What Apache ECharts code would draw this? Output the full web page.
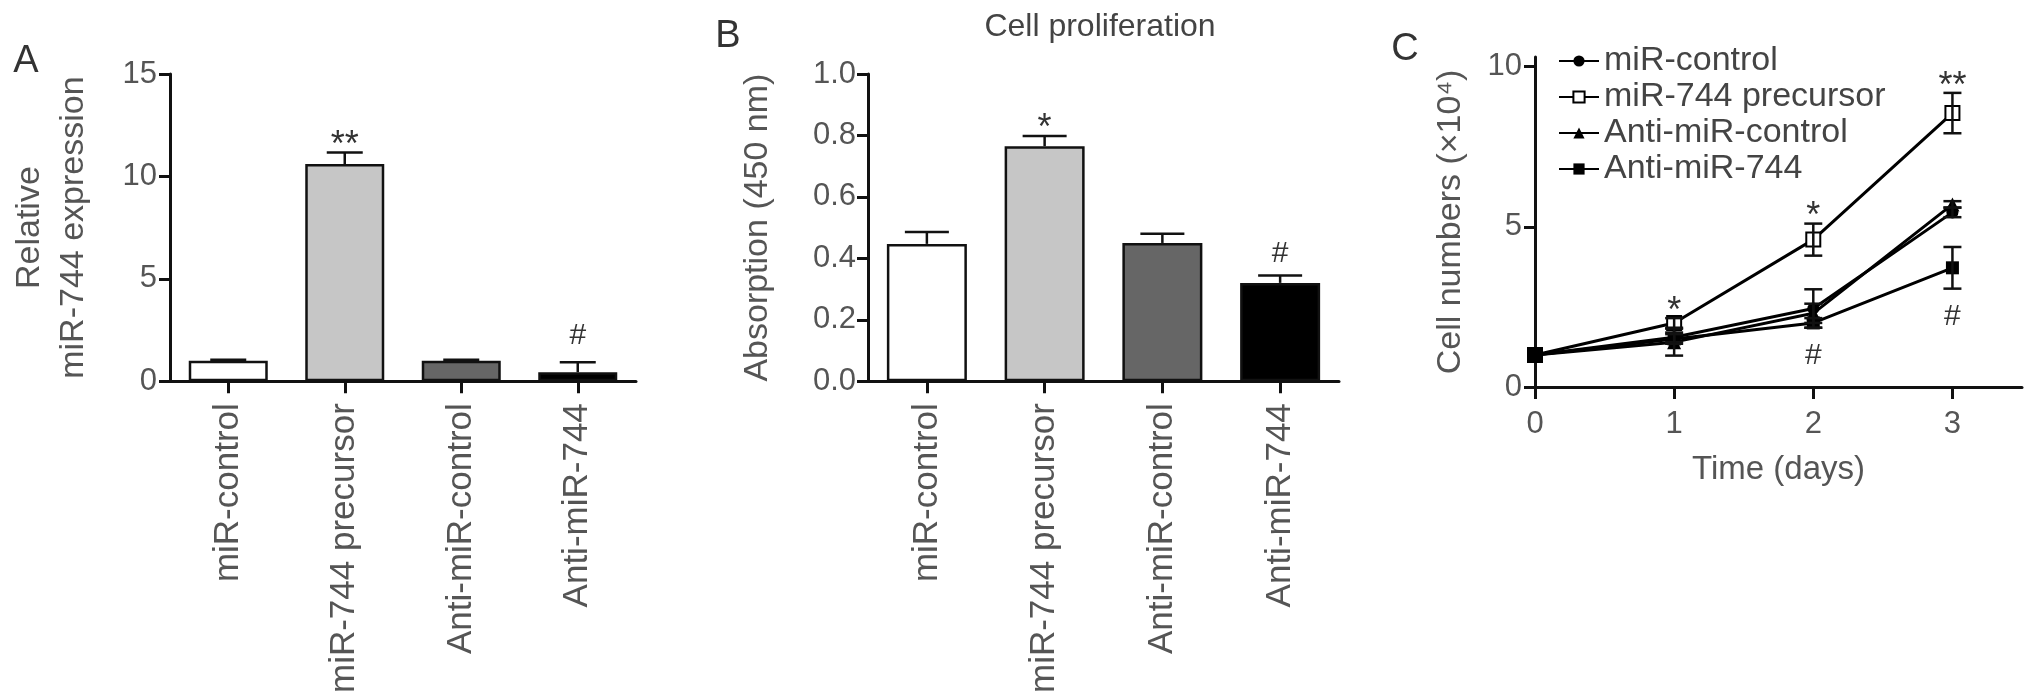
<!DOCTYPE html>
<html>
<head>
<meta charset="utf-8">
<script src="https://cdn.jsdelivr.net/npm/echarts@6/dist/echarts.min.js"></script>
<style>
html, body { margin: 0; padding: 0; background: #fff; }
#main { width: 2032px; height: 696px; }
</style>
</head>
<body>
<div id="main"></div>
<script>
// groups shared by panel A and B
var groups = ['miR-control', 'miR-744 precursor', 'Anti-miR-control', 'Anti-miR-744'];
var barColors = ['#ffffff', '#c6c6c6', '#666666', '#000000'];

// A - relative miR-744 expression
var exprMean = [1.0, 10.6, 1.0, 0.44];
var exprErr = [0.05, 0.57, 0.05, 0.48];
var exprMark = ['', '**', '', '#'];

// B - absorption (450 nm)
var absMean = [0.447, 0.765, 0.45, 0.32];
var absErr = [0.039, 0.033, 0.03, 0.024];
var absMark = ['', '*', '', '#'];

// C - cell numbers (x10^4)
var days = [0, 1, 2, 3];
var ctrlMean = [1.0, 1.55, 2.45, 5.45];
var ctrlErr = [0, 0.15, 0.6, 0.15];
var preMean = [1.0, 2.0, 4.6, 8.55];
var preErr = [0, 0.15, 0.5, 0.63];
var antiCtrlMean = [1.0, 1.4, 2.3, 5.7];
var antiCtrlErr = [0, 0.42, 0.3, 0.1];
var antiMean = [1.0, 1.5, 2.0, 3.72];
var antiErr = [0, 0.15, 0.15, 0.65];
var preMark = ['', '*', '*', '**'];
var antiMark = ['', '', '#', '#'];

var FONT = '"Liberation Sans", Arial, sans-serif';
var INK = '#111';
var GREY = '#555';

function markText(x, y, txt) {
  var star = txt.indexOf('*') >= 0;
  var fs = star ? 36 : 30;
  return {
    type: 'text', x: x, y: star ? y + 0.27 * fs : y,
    style: { text: txt, align: 'center', verticalAlign: 'middle', fontSize: fs, fontFamily: FONT, fill: '#333' }
  };
}

// one-sided error bars on top of the bars, plus significance marks
function barErr(capW, marks, gap) {
  return function (params, api) {
    var i = api.value(0), m = api.value(1), e = api.value(2);
    var b = api.coord([i, m]), t = api.coord([i, m + e]);
    var ls = { stroke: INK, lineWidth: 2.5 };
    var kids = [
      { type: 'line', shape: { x1: t[0], y1: b[1], x2: t[0], y2: t[1] }, style: ls },
      { type: 'line', shape: { x1: t[0] - capW / 2, y1: t[1], x2: t[0] + capW / 2, y2: t[1] }, style: ls }
    ];
    if (marks[i]) kids.push(markText(t[0], t[1] - gap[i], marks[i]));
    return { type: 'group', children: kids };
  };
}

// two-sided error bars for panel C
function lineErr(marksUp, marksDown) {
  return function (params, api) {
    var x = api.value(0), m = api.value(1), e = api.value(2);
    var t = api.coord([x, m + e]), b = api.coord([x, m - e]);
    var ls = { stroke: INK, lineWidth: 2.5 };
    var kids = [];
    if (e > 0) {
      kids.push({ type: 'line', shape: { x1: t[0], y1: t[1], x2: t[0], y2: b[1] }, style: ls });
      kids.push({ type: 'line', shape: { x1: t[0] - 9, y1: t[1], x2: t[0] + 9, y2: t[1] }, style: ls });
      kids.push({ type: 'line', shape: { x1: b[0] - 9, y1: b[1], x2: b[0] + 9, y2: b[1] }, style: ls });
    }
    var i = params.dataIndex;
    if (marksUp && marksUp[i]) kids.push(markText(t[0], t[1] - 16, marksUp[i]));
    if (marksDown && marksDown[i]) kids.push(markText(b[0], b[1] + 28, marksDown[i]));
    return { type: 'group', children: kids };
  };
}

function errData(xs, mean, err) {
  return xs.map(function (x, i) { return [x, mean[i], err[i]]; });
}
function pts(mean) {
  return days.map(function (d, i) { return [d, mean[i]]; });
}

var axisLine = { show: true, onZero: false, lineStyle: { color: INK, width: 3 } };
var tickOut = { show: true, length: 11, lineStyle: { color: INK, width: 3 } };
var tickLbl = { color: GREY, fontSize: 31, fontFamily: FONT };

function catAxis(idx) {
  return {
    type: 'category', gridIndex: idx, data: groups,
    axisLine: axisLine,
    axisTick: { show: true, alignWithLabel: true, length: 12, lineStyle: { color: INK, width: 3 } },
    axisLabel: { rotate: 90, margin: 22, color: GREY, fontSize: 35, fontFamily: FONT }
  };
}

var chart = echarts.init(document.getElementById('main'));
chart.setOption({
  animation: false,
  backgroundColor: '#fff',
  grid: [
    { left: 170, top: 74, width: 466, height: 309 },
    { left: 868, top: 74, width: 471, height: 313 },
    { left: 1535, top: 57, width: 487, height: 330 }
  ],
  xAxis: [
    catAxis(0),
    catAxis(1),
    {
      type: 'value', gridIndex: 2, min: 0, max: 3.5,
      axisLine: axisLine,
      axisTick: { show: true, length: 12, customValues: [0, 1, 2, 3], lineStyle: { color: INK, width: 3 } },
      axisLabel: { customValues: [0, 1, 2, 3], margin: 22, color: GREY, fontSize: 31, fontFamily: FONT },
      splitLine: { show: false },
      name: 'Time (days)', nameLocation: 'middle', nameGap: 66,
      nameTextStyle: { color: GREY, fontSize: 33, fontFamily: FONT }
    }
  ],
  yAxis: [
    {
      type: 'value', gridIndex: 0, min: 0, max: 15, interval: 5,
      axisLine: axisLine, axisTick: tickOut, splitLine: { show: false },
      axisLabel: Object.assign({ margin: 13 }, tickLbl),
      name: 'Relative\nmiR-744 expression', nameLocation: 'middle', nameGap: 74,
      nameTextStyle: { color: GREY, fontSize: 34, fontFamily: FONT, lineHeight: 44 }
    },
    {
      type: 'value', gridIndex: 1, min: 0, max: 1, interval: 0.2,
      axisLine: axisLine, axisTick: tickOut, splitLine: { show: false },
      axisLabel: Object.assign({ margin: 12, formatter: function (v) { return v.toFixed(1); } }, tickLbl),
      name: 'Absorption (450 nm)', nameLocation: 'middle', nameGap: 93,
      nameTextStyle: { color: GREY, fontSize: 34, fontFamily: FONT }
    },
    {
      type: 'value', gridIndex: 2, min: 0, max: 10.3,
      axisLine: axisLine,
      axisTick: { show: true, length: 11, customValues: [0, 5, 10], lineStyle: { color: INK, width: 3 } },
      axisLabel: Object.assign({ margin: 13, customValues: [0, 5, 10] }, tickLbl),
      splitLine: { show: false },
      name: 'Cell numbers (×10⁴)', nameLocation: 'middle', nameGap: 67,
      nameTextStyle: { color: GREY, fontSize: 34, fontFamily: FONT }
    }
  ],
  legend: {
    orient: 'vertical', left: 1553, top: 39, itemWidth: 40, itemHeight: 14, itemGap: 2,
    textStyle: { color: '#444', fontSize: 34, fontFamily: FONT },
    data: ['miR-control', 'miR-744 precursor', 'Anti-miR-control', 'Anti-miR-744']
  },
  graphic: [
    { type: 'text', x: 26, y: 62, style: { text: 'A', fontSize: 38, fontFamily: FONT, fill: '#333', align: 'center', verticalAlign: 'middle' } },
    { type: 'text', x: 728, y: 37, style: { text: 'B', fontSize: 38, fontFamily: FONT, fill: '#333', align: 'center', verticalAlign: 'middle' } },
    { type: 'text', x: 1405, y: 50, style: { text: 'C', fontSize: 38, fontFamily: FONT, fill: '#333', align: 'center', verticalAlign: 'middle' } },
    { type: 'text', x: 1100, y: 27, style: { text: 'Cell proliferation', fontSize: 32, fontFamily: FONT, fill: '#444', align: 'center', verticalAlign: 'middle' } }
  ],
  series: [
    {
      type: 'bar', xAxisIndex: 0, yAxisIndex: 0, barWidth: 79,
      data: exprMean.map(function (v, i) {
        return { value: v, itemStyle: { color: barColors[i], borderColor: INK, borderWidth: 2.5 } };
      })
    },
    {
      type: 'custom', xAxisIndex: 0, yAxisIndex: 0, z: 5,
      renderItem: barErr(36, exprMark, [0, 16, 0, 27]),
      data: errData([0, 1, 2, 3], exprMean, exprErr)
    },
    {
      type: 'bar', xAxisIndex: 1, yAxisIndex: 1, barWidth: 80,
      data: absMean.map(function (v, i) {
        return { value: v, itemStyle: { color: barColors[i], borderColor: INK, borderWidth: 2.5 } };
      })
    },
    {
      type: 'custom', xAxisIndex: 1, yAxisIndex: 1, z: 5,
      renderItem: barErr(44, absMark, [0, 17, 0, 22]),
      data: errData([0, 1, 2, 3], absMean, absErr)
    },
    {
      name: 'miR-control', type: 'line', xAxisIndex: 2, yAxisIndex: 2,
      data: pts(ctrlMean), symbol: 'circle', symbolSize: 12,
      itemStyle: { color: '#000' }, lineStyle: { color: '#000', width: 3 }
    },
    {
      name: 'miR-744 precursor', type: 'line', xAxisIndex: 2, yAxisIndex: 2,
      data: pts(preMean), symbol: 'rect', symbolSize: 14,
      itemStyle: { color: '#fff', borderColor: '#000', borderWidth: 2 }, lineStyle: { color: '#000', width: 3 }
    },
    {
      name: 'Anti-miR-control', type: 'line', xAxisIndex: 2, yAxisIndex: 2,
      data: pts(antiCtrlMean), symbol: 'triangle', symbolSize: 14,
      itemStyle: { color: '#000' }, lineStyle: { color: '#000', width: 3 }
    },
    {
      name: 'Anti-miR-744', type: 'line', xAxisIndex: 2, yAxisIndex: 2,
      data: pts(antiMean), symbol: 'rect', symbolSize: 13,
      itemStyle: { color: '#000' }, lineStyle: { color: '#000', width: 3 }
    },
    { type: 'custom', xAxisIndex: 2, yAxisIndex: 2, z: 5, renderItem: lineErr(null, null), data: errData(days, ctrlMean, ctrlErr) },
    { type: 'custom', xAxisIndex: 2, yAxisIndex: 2, z: 5, renderItem: lineErr(preMark, null), data: errData(days, preMean, preErr) },
    { type: 'custom', xAxisIndex: 2, yAxisIndex: 2, z: 5, renderItem: lineErr(null, null), data: errData(days, antiCtrlMean, antiCtrlErr) },
    { type: 'custom', xAxisIndex: 2, yAxisIndex: 2, z: 5, renderItem: lineErr(null, antiMark), data: errData(days, antiMean, antiErr) }
  ]
});
</script>
</body>
</html>
